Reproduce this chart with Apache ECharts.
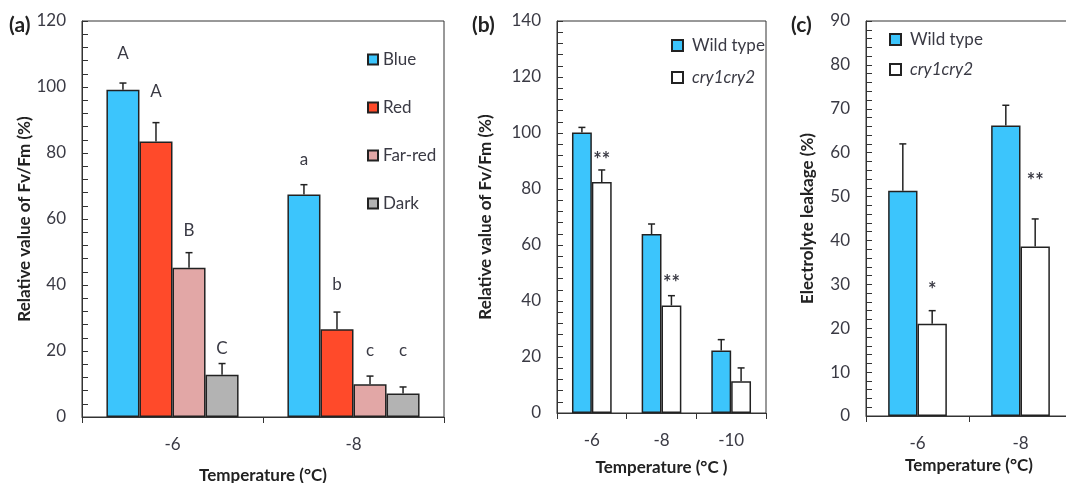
<!DOCTYPE html>
<html>
<head>
<meta charset="utf-8">
<script src="https://cdn.jsdelivr.net/npm/echarts@6/dist/echarts.min.js"></script>
<style>
  html, body { margin: 0; padding: 0; background: #fff; }
  #chart { width: 1066px; height: 483px; }
</style>
</head>
<body>
<div id="chart"></div>
<script>
// panel (a)
const tempsA = ['-6', '-8']
const lightNames = ['Blue', 'Red', 'Far-red', 'Dark']
const lightColors = ['#3cc5fc', '#ff4a2a', '#e2a7a6', '#b3b3b3']
const blueVals = [99.2, 67.4]
const redVals = [83.5, 26.6]
const farRedVals = [45.2, 9.9]
const darkVals = [12.8, 7.1]
const blueErr = [2.0, 3.0]
const redErr = [5.7, 5.2]
const farRedErr = [4.6, 2.5]
const darkErr = [3.4, 2.0]
const lettersA = [['A', 'a'], ['A', 'b'], ['B', 'c'], ['C', 'c']]
const letterPosA = [[110, 78], [98.7, 40], [56.6, 20.2], [20.8, 20.2]]

// panel (b)
const tempsB = ['-6', '-8', '-10']
const wtFvB = [100.2, 63.9, 22.3]
const cryFvB = [82.5, 38.4, 11.3]
const wtErrB = [1.8, 3.6, 3.9]
const cryErrB = [4.3, 3.5, 4.8]
const starsB = ['**', '**', '']
const starPosB = [91.7, 47.6, 0]

// panel (c)
const tempsC = ['-6', '-8']
const wtLeakC = [51.3, 66.2]
const cryLeakC = [21.0, 38.6]
const wtErrC = [10.7, 4.6]
const cryErrC = [3.0, 6.3]
const starsC = ['*', '**']
const starPosC = [29.4, 54.3]

const font = 'Lato, "Open Sans", sans-serif'
const txt = '#3a3a44'
const lineCol = '#333'

const myChart = echarts.init(document.getElementById('chart'))

function yAxis (gi, max, interval, name, gap) {
  return {
    type: 'value',
    gridIndex: gi,
    min: 0,
    max: max,
    interval: interval,
    name: name,
    nameLocation: 'middle',
    nameGap: gap,
    nameTextStyle: { fontFamily: font, fontWeight: 'bold', fontSize: 17, color: '#222' },
    axisLine: { show: true, lineStyle: { color: lineCol, width: 1 } },
    axisTick: { show: true, inside: true, length: 6, lineStyle: { color: lineCol } },
    minorTick: { show: true, splitNumber: 5, length: 6, lineStyle: { color: lineCol } },
    splitLine: { show: false },
    axisLabel: { fontFamily: font, fontSize: 17, color: txt, margin: 16 }
  }
}

function xAxis (gi, data, name, gap) {
  return {
    type: 'category',
    gridIndex: gi,
    data: data,
    name: name,
    nameLocation: 'middle',
    nameGap: gap,
    nameTextStyle: { fontFamily: font, fontWeight: 'bold', fontSize: 17, color: '#222' },
    axisLine: { show: true, lineStyle: { color: lineCol, width: 1 } },
    axisTick: { show: true, length: 6, alignWithLabel: false, lineStyle: { color: lineCol } },
    axisLabel: { fontFamily: font, fontSize: 17, color: txt, margin: 19 }
  }
}

function barSeries (name, gi, data, color, gap) {
  return {
    name: name,
    type: 'bar',
    xAxisIndex: gi,
    yAxisIndex: gi,
    data: data,
    barGap: '0%',
    barCategoryGap: gap,
    itemStyle: { color: color, borderColor: '#222', borderWidth: 1.5 }
  }
}

// bar offset inside a category, from the axis band width
function barX (api, cat, val, idx, count, gap) {
  const band = api.size([1, 0])[0]
  const group = band * (1 - gap)
  const bw = group / count
  const c = api.coord([cat, val])
  return [c[0] - group / 2 + bw * (idx + 0.5), c[1]]
}

function errSeries (gi, means, errs, idx, count, gap) {
  return {
    type: 'custom',
    xAxisIndex: gi,
    yAxisIndex: gi,
    z: 1,
    silent: true,
    data: means.map((m, i) => [i, m, m + errs[i]]),
    renderItem: (params, api) => {
      const base = barX(api, api.value(0), api.value(1), idx, count, gap)
      const top = barX(api, api.value(0), api.value(2), idx, count, gap)
      const st = { stroke: '#222', lineWidth: 1.5 }
      return {
        type: 'group',
        children: [
          { type: 'line', shape: { x1: base[0], y1: base[1], x2: top[0], y2: top[1] }, style: st },
          { type: 'line', shape: { x1: top[0] - 3.5, y1: top[1], x2: top[0] + 3.5, y2: top[1] }, style: st }
        ]
      }
    }
  }
}

function textSeries (gi, pos, labels, idx, count, gap, fontStr, dy) {
  return {
    type: 'custom',
    xAxisIndex: gi,
    yAxisIndex: gi,
    silent: true,
    data: pos.map((p, i) => [i, p]),
    renderItem: (params, api) => {
      const p = barX(api, api.value(0), api.value(1), idx, count, gap)
      return {
        type: 'text',
        x: p[0],
        y: p[1] + dy,
        style: {
          text: labels[params.dataIndex],
          fill: txt,
          font: fontStr,
          align: 'center',
          verticalAlign: 'middle'
        }
      }
    }
  }
}

const legendText = {
  fontFamily: font,
  fontSize: 17,
  color: txt,
  rich: { i: { fontFamily: font, fontSize: 17, fontStyle: 'italic', color: txt } }
}
const legendFmt = name => (name === 'cry1cry2' ? '{i|cry1cry2}' : name)

const series = []
const valsA = [blueVals, redVals, farRedVals, darkVals]
const errA = [blueErr, redErr, farRedErr, darkErr]
lightNames.forEach((n, i) => {
  series.push(barSeries(n, 0, valsA[i], lightColors[i], '27%'))
  series.push(errSeries(0, valsA[i], errA[i], i, 4, 0.27))
  series.push(textSeries(0, letterPosA[i], lettersA[i], i, 4, 0.27, '17px ' + font, 0))
})
const starFont = 'bold 20px ' + font
series.push(barSeries('Wild type', 1, wtFvB, '#3cc5fc', '43%'))
series.push(barSeries('cry1cry2', 1, cryFvB, '#ffffff', '43%'))
series.push(errSeries(1, wtFvB, wtErrB, 0, 2, 0.43))
series.push(errSeries(1, cryFvB, cryErrB, 1, 2, 0.43))
series.push(textSeries(1, starPosB, starsB, 1, 2, 0.43, starFont, 4))
series.push(barSeries('Wild type', 2, wtLeakC, '#3cc5fc', '43%'))
series.push(barSeries('cry1cry2', 2, cryLeakC, '#ffffff', '43%'))
series.push(errSeries(2, wtLeakC, wtErrC, 0, 2, 0.43))
series.push(errSeries(2, cryLeakC, cryErrC, 1, 2, 0.43))
series.push(textSeries(2, starPosC, starsC, 1, 2, 0.43, starFont, 4))

const gridBase = { show: true, borderColor: lineCol, borderWidth: 1, outerBoundsMode: 'none', containLabel: false }

const option = {
  animation: false,
  backgroundColor: '#fff',
  grid: [
    Object.assign({ left: 82, right: 622, top: 21, bottom: 66 }, gridBase),
    Object.assign({ left: 557, right: 300, top: 21, bottom: 70 }, gridBase),
    Object.assign({ left: 866, right: -6, top: 21, bottom: 67 }, gridBase)
  ],
  xAxis: [
    xAxis(0, tempsA, 'Temperature (°C)', 50),
    xAxis(1, tempsB, 'Temperature (°C )', 46),
    xAxis(2, tempsC, 'Temperature (°C)', 38)
  ],
  yAxis: [
    yAxis(0, 120, 20, 'Relative value of Fv/Fm (%)', 46),
    yAxis(1, 140, 20, 'Relative value of Fv/Fm (%)', 63),
    yAxis(2, 90, 10, 'Electrolyte leakage (%)', 50)
  ],
  legend: [
    {
      data: lightNames,
      orient: 'vertical',
      left: 362,
      top: 46,
      itemGap: 31,
      itemWidth: 10,
      itemHeight: 10,
      icon: 'rect',
      textStyle: legendText
    },
    {
      data: ['Wild type', 'cry1cry2'],
      orient: 'vertical',
      left: 666,
      top: 32,
      itemGap: 15,
      itemWidth: 11,
      itemHeight: 11,
      icon: 'rect',
      formatter: legendFmt,
      textStyle: Object.assign({ padding: [0, 0, 0, 4] }, legendText)
    },
    {
      data: ['Wild type', 'cry1cry2'],
      orient: 'vertical',
      left: 884,
      top: 26,
      itemGap: 13,
      itemWidth: 11,
      itemHeight: 11,
      icon: 'rect',
      formatter: legendFmt,
      textStyle: Object.assign({ padding: [0, 0, 0, 4] }, legendText)
    }
  ],
  graphic: [
    { type: 'text', left: 9, top: 15, style: { text: '(a)', font: 'bold 21px ' + font, fill: '#222' } },
    { type: 'text', left: 472, top: 15, style: { text: '(b)', font: 'bold 21px ' + font, fill: '#222' } },
    { type: 'text', left: 791, top: 15, style: { text: '(c)', font: 'bold 21px ' + font, fill: '#222' } }
  ],
  series: series
}

option && myChart.setOption(option)
</script>
</body>
</html>
